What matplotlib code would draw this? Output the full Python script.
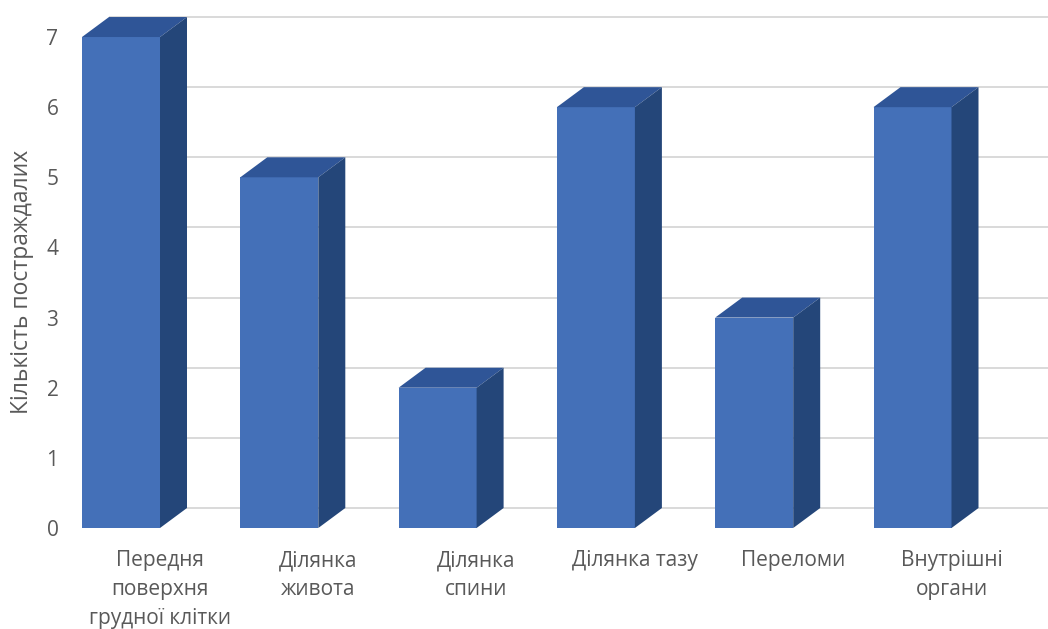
import numpy as np
import matplotlib
matplotlib.use("Agg")
import matplotlib.pyplot as plt
from matplotlib.patches import Polygon

plt.rcParams['font.family'] = ['Open Sans', 'DejaVu Sans']

categories = [
    "Передня\nповерхня\nгрудної клітки",
    "Ділянка\nживота",
    "Ділянка\nспини",
    "Ділянка тазу",
    "Переломи",
    "Внутрішні\nоргани",
]
counts = [7, 5, 2, 6, 3, 6]
y_ticks = [0, 1, 2, 3, 4, 5, 6, 7]

front = "#4470B8"
top = "#2F5597"
side = "#244679"
grid = "#D9D9D9"
text = "#595959"

W, H = 1048, 629
fig = plt.figure(figsize=(W / 100, H / 100), dpi=100)
# axes spans from the front-left of the first bar to the right edge
ax = fig.add_axes([82 / W, (H - 528) / H, 966 / W, 518 / H])

px_x = 158.3   # pixels per category
px_y = 70.14   # pixels per unit
x0 = (82 - 121) / px_x
x1 = (1048 - 121) / px_x
ax.set_xlim(x0, x1)
ax.set_ylim(0, 518 / px_y)

w = 78 / px_x
dx = 27 / px_x
dy = 20 / px_y

x = np.arange(len(counts))

# back wall gridlines
ax.hlines(np.array(y_ticks) + dy, x0 + dx, x1, color=grid, lw=1.4, zorder=1)

ax.bar(x, counts, width=w, color=front, zorder=3)
for xi, v in zip(x, counts):
    l, r = xi - w / 2, xi + w / 2
    ax.add_patch(Polygon([(l, v), (l + dx, v + dy), (r + dx, v + dy), (r, v)],
                         closed=True, facecolor=top, edgecolor="none", zorder=3))
    ax.add_patch(Polygon([(r, 0), (r + dx, dy), (r + dx, v + dy), (r, v)],
                         closed=True, facecolor=side, edgecolor="none", zorder=3))

ax.set_yticks(y_ticks)
ax.set_yticklabels([str(t) for t in y_ticks], fontsize=15, color=text)
ax.set_xticks(x + w / 2)
ax.set_xticklabels(categories, fontsize=15, color=text, linespacing=1.5, va="top")
ax.tick_params(axis="y", length=0, pad=17)
ax.tick_params(axis="x", length=0, pad=16)
for s in ax.spines.values():
    s.set_visible(False)

fig.text(22 / W, 1 - 282 / H, "Кількість постраждалих", rotation=90,
         ha="center", va="center", fontsize=16.5, color=text)

plt.savefig("out.png", dpi=100)
